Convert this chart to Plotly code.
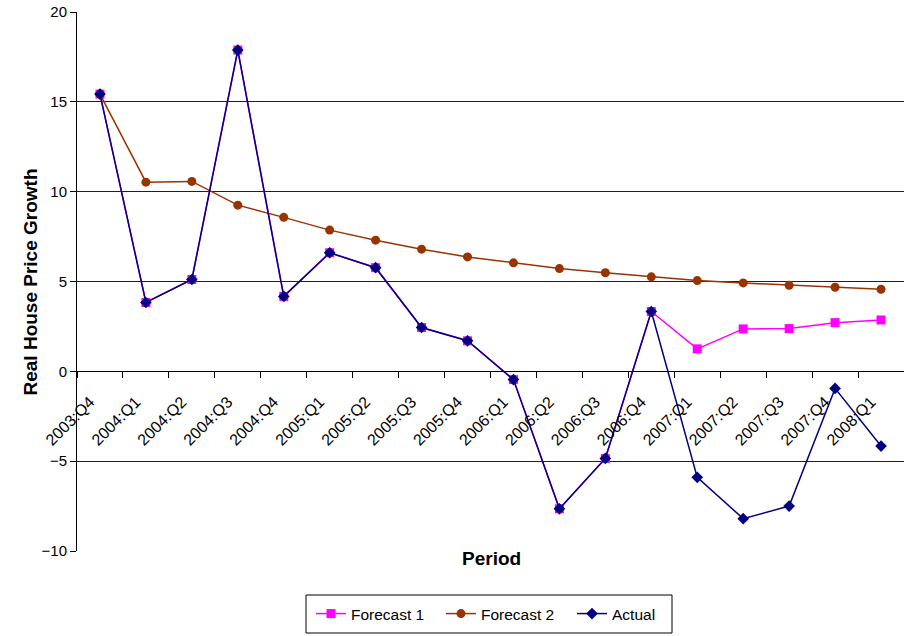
import plotly.graph_objects as go

periods = ["2003:Q4", "2004:Q1", "2004:Q2", "2004:Q3", "2004:Q4", "2005:Q1",
           "2005:Q2", "2005:Q3", "2005:Q4", "2006:Q1", "2006:Q2", "2006:Q3",
           "2006:Q4", "2007:Q1", "2007:Q2", "2007:Q3", "2007:Q4", "2008:Q1"]

actual = [15.43, 3.83, 5.11, 17.88, 4.17, 6.60, 5.77, 2.44, 1.70, -0.46,
          -7.65, -4.85, 3.33, -5.90, -8.20, -7.50, -0.95, -4.16]

forecast1 = [15.43, 3.83, 5.11, 17.88, 4.17, 6.60, 5.77, 2.44, 1.70, -0.46,
             -7.65, -4.85, 3.33, 1.25, 2.36, 2.38, 2.71, 2.86]

forecast2 = [15.43, 10.53, 10.57, 9.25, 8.57, 7.86, 7.30, 6.80, 6.37, 6.04,
             5.72, 5.49, 5.26, 5.05, 4.92, 4.79, 4.68, 4.57]

y_ticks = [-10, -5, 0, 5, 10, 15, 20]

FONT = "Liberation Sans, Arial, Helvetica, sans-serif"

# figure geometry in pixels
W, H = 904, 636
ML, MR, MT, MB = 77, 0, 12, 85
PW, PH = W - ML - MR, H - MT - MB


def px_x(x):
    return (x - ML) / PW


def px_y(y):
    return (H - MB - y) / PH


fig = go.Figure()
fig.add_trace(go.Scatter(
    x=periods, y=forecast1, name="Forecast 1", mode="lines+markers",
    line=dict(color="#FF00FF", width=1.5),
    marker=dict(symbol="square", size=9, color="#FF00FF"),
    legend="legend",
))
fig.add_trace(go.Scatter(
    x=periods, y=forecast2, name="Forecast 2", mode="lines+markers",
    line=dict(color="#993300", width=1.5),
    marker=dict(symbol="circle", size=9, color="#993300"),
    legend="legend2",
))
fig.add_trace(go.Scatter(
    x=periods, y=actual, name="Actual", mode="lines+markers",
    line=dict(color="#000080", width=1.5),
    marker=dict(symbol="diamond", size=9, color="#000080"),
    legend="legend3",
))


def legend_at(x_px):
    # one legend entry per trace, placed side by side inside a shared frame
    return dict(
        orientation="h", x=px_x(x_px), xanchor="left",
        y=px_y(597), yanchor="top",
        borderwidth=0, bgcolor="rgba(0,0,0,0)",
        font=dict(size=15.5),
    )


fig.update_layout(
    width=W, height=H,
    margin=dict(l=ML, r=MR, t=MT, b=MB),
    paper_bgcolor="white", plot_bgcolor="white",
    font=dict(family=FONT, size=15, color="black"),
    showlegend=True,
    legend=legend_at(311),
    legend2=legend_at(441),
    legend3=legend_at(572),
    xaxis=dict(
        type="category", range=[-0.5, 17.5],
        anchor="free", position=1/3,
        showline=True, linecolor="black", linewidth=1,
        ticks="outside", ticklen=6, tickcolor="black", tickson="boundaries",
        tickangle=-45, showgrid=False, zeroline=False,
        tickfont=dict(size=16),
        ticklabelstandoff=14, ticklabelshift=-10,
    ),
    yaxis=dict(
        range=[-10, 20], tickvals=y_ticks,
        showline=True, linecolor="black", linewidth=1,
        ticks="outside", ticklen=6, tickcolor="black",
        showgrid=True, gridcolor="#202020", gridwidth=1,
        zeroline=True, zerolinecolor="black", zerolinewidth=1,
        tickfont=dict(size=15),
    ),
    annotations=[
        dict(text="<b>Period</b>", x=px_x(491), y=px_y(571),
             xref="paper", yref="paper", showarrow=False, font=dict(size=19)),
        dict(text="<b>Real House Price Growth</b>", textangle=-90,
             x=px_x(17), y=px_y(282), xref="paper", yref="paper",
             showarrow=False, font=dict(size=19)),
    ],
    shapes=[
        # legend frame
        dict(type="rect", xref="paper", yref="paper",
             x0=px_x(306), x1=px_x(672), y0=px_y(595), y1=px_y(633),
             line=dict(color="black", width=1), fillcolor="rgba(0,0,0,0)"),
    ],
)

fig.write_html("out.html")
